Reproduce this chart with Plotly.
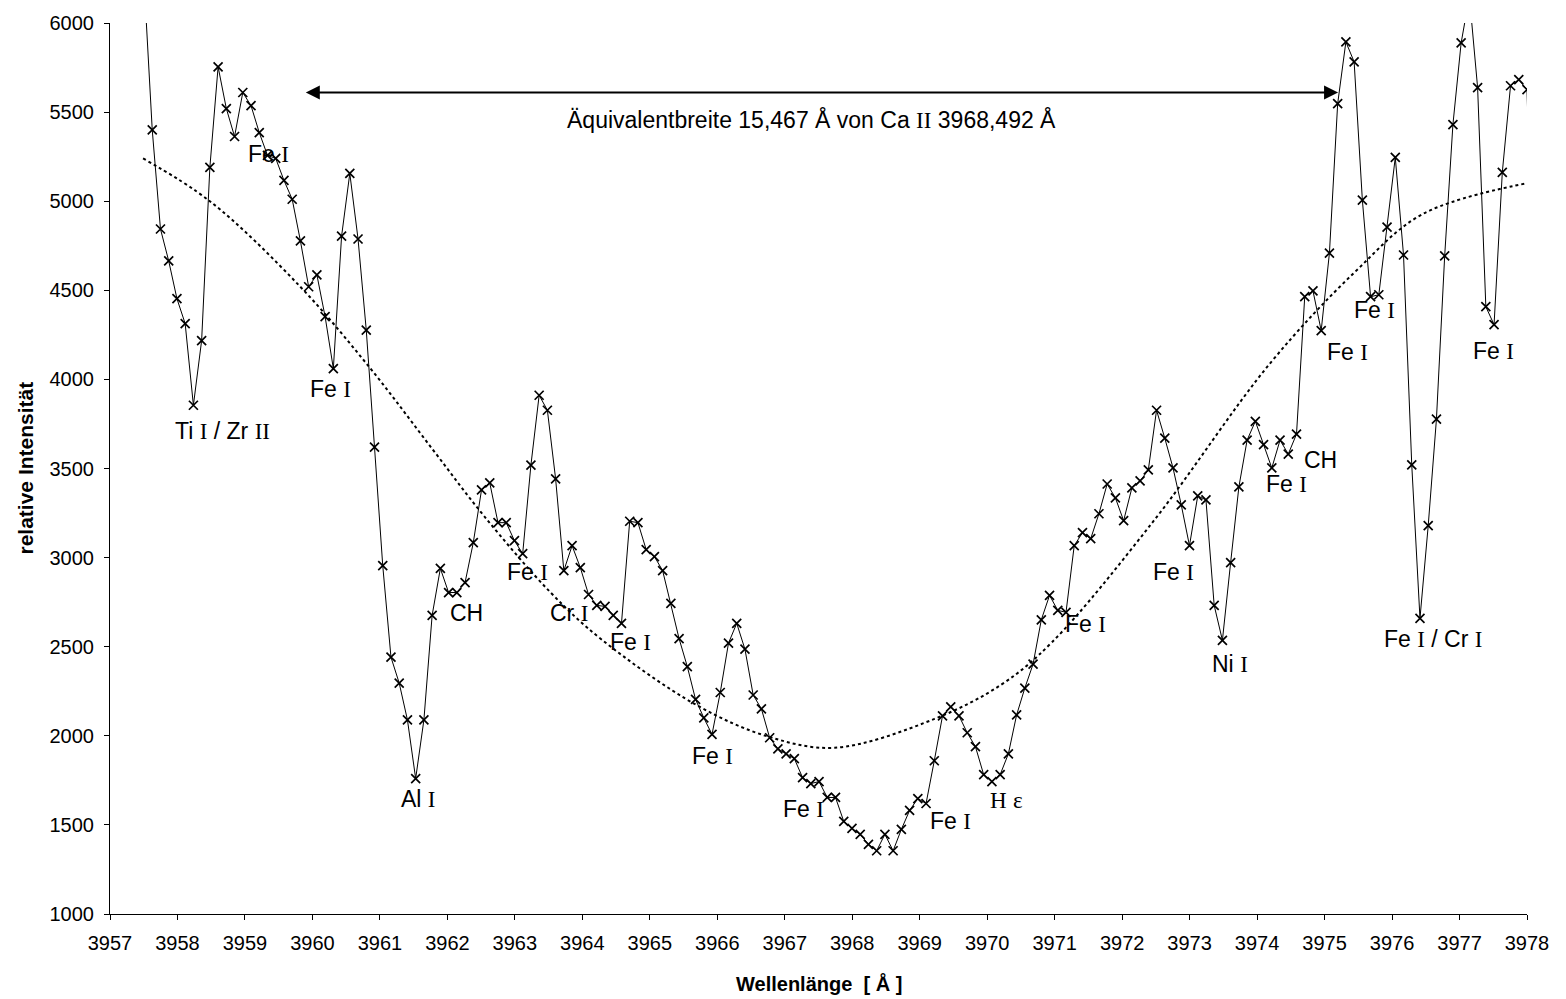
import plotly.graph_objects as go

# Wavelength grid of the extracted spectrum [Å]
wavelength = [
    3957.504, 3957.626, 3957.748, 3957.870, 3957.992, 3958.114, 3958.236, 3958.358, 3958.480, 3958.602,
    3958.724, 3958.846, 3958.968, 3959.090, 3959.212, 3959.334, 3959.456, 3959.578, 3959.700, 3959.822,
    3959.944, 3960.066, 3960.188, 3960.310, 3960.432, 3960.554, 3960.676, 3960.798, 3960.920, 3961.042,
    3961.164, 3961.286, 3961.408, 3961.530, 3961.652, 3961.774, 3961.896, 3962.018, 3962.140, 3962.262,
    3962.384, 3962.506, 3962.628, 3962.750, 3962.872, 3962.994, 3963.116, 3963.238, 3963.360, 3963.482,
    3963.604, 3963.726, 3963.848, 3963.970, 3964.092, 3964.214, 3964.336, 3964.458, 3964.580, 3964.702,
    3964.824, 3964.946, 3965.068, 3965.190, 3965.312, 3965.434, 3965.556, 3965.678, 3965.800, 3965.922,
    3966.044, 3966.166, 3966.288, 3966.410, 3966.532, 3966.654, 3966.776, 3966.898, 3967.020, 3967.142,
    3967.264, 3967.386, 3967.508, 3967.630, 3967.752, 3967.874, 3967.996, 3968.118, 3968.240, 3968.362,
    3968.484, 3968.606, 3968.728, 3968.850, 3968.972, 3969.094, 3969.216, 3969.338, 3969.460, 3969.582,
    3969.704, 3969.826, 3969.948, 3970.070, 3970.192, 3970.314, 3970.436, 3970.558, 3970.680, 3970.802,
    3970.924, 3971.046, 3971.168, 3971.290, 3971.412, 3971.534, 3971.656, 3971.778, 3971.900, 3972.022,
    3972.144, 3972.266, 3972.388, 3972.510, 3972.632, 3972.754, 3972.876, 3972.998, 3973.120, 3973.242,
    3973.364, 3973.486, 3973.608, 3973.730, 3973.852, 3973.974, 3974.096, 3974.218, 3974.340, 3974.462,
    3974.584, 3974.706, 3974.828, 3974.950, 3975.072, 3975.194, 3975.316, 3975.438, 3975.560, 3975.682,
    3975.804, 3975.926, 3976.048, 3976.170, 3976.292, 3976.414, 3976.536, 3976.658, 3976.780, 3976.902,
    3977.024, 3977.146, 3977.268, 3977.390, 3977.512, 3977.634, 3977.756, 3977.878, 3978.000, 3978.122,
]

# Relative intensity at each wavelength
intensity = [
    6240, 5400, 4844, 4665, 4453, 4313, 3855, 4218, 5190, 5754,
    5520, 5363, 5610, 5536, 5385, 5257, 5240, 5117, 5011, 4777,
    4520, 4587, 4352, 4061, 4804, 5156, 4788, 4276, 3620, 2955,
    2441, 2296, 2089, 1760, 2089, 2676, 2939, 2804, 2804, 2860,
    3084, 3380, 3419, 3196, 3196, 3095, 3022, 3519, 3911, 3827,
    3442, 2927, 3067, 2944, 2793, 2732, 2726, 2676, 2631, 3204,
    3196, 3045, 3006, 2927, 2743, 2545, 2388, 2204, 2101, 2008,
    2243, 2520, 2631, 2486, 2229, 2151, 1989, 1927, 1899, 1872,
    1765, 1732, 1743, 1654, 1654, 1520, 1480, 1447, 1391, 1355,
    1447, 1355, 1475, 1581, 1648, 1620, 1860, 2112, 2162, 2112,
    2017, 1939, 1782, 1743, 1782, 1899, 2117, 2268, 2402, 2651,
    2788, 2704, 2693, 3067, 3140, 3106, 3246, 3413, 3335, 3207,
    3391, 3430, 3492, 3827, 3670, 3503, 3296, 3067, 3346, 3324,
    2732, 2536, 2972, 3397, 3659, 3765, 3634, 3503, 3659, 3581,
    3693, 4464, 4497, 4274, 4709, 5547, 5894, 5782, 5006, 4464,
    4475, 4855, 5246, 4698, 3520, 2659, 3179, 3777, 4693, 5430,
    5888, 6150, 5637, 4408, 4307, 5162, 5648, 5682, 5626, 4000,
]

# Continuum trend through the profile of the Ca II line
trend_wavelength = [3957.49, 3958.48, 3959.82, 3960.86, 3961.79, 3962.54, 3963.53, 3964.28, 3965.69,
                    3966.76, 3967.74, 3969.22, 3970.22, 3970.96, 3972.48, 3974.19, 3975.45, 3976.45, 3978.00]
trend_intensity = [5240, 5000, 4520, 4061, 3603, 3235, 2804, 2542, 2173,
                   1995, 1933, 2095, 2290, 2525, 3212, 4089, 4603, 4927, 5101]

# Line identifications
line_labels = ["Ti I / Zr II", "Fe I", "Fe I", "Al I", "CH", "Fe I", "Cr I", "Fe I", "Fe I", "Fe I",
               "Fe I", "H ε", "Fe I", "Fe I", "Ni I", "Fe I", "CH", "Fe I", "Fe I", "Fe I / Cr I", "Fe I"]
label_wavelength = [3958.66, 3959.35, 3960.27, 3961.57, 3962.29, 3963.19, 3963.80, 3964.71, 3965.93, 3967.28,
                    3969.46, 3970.29, 3971.45, 3972.76, 3973.60, 3974.44, 3974.94, 3975.34, 3975.74, 3976.60, 3977.50]
label_intensity = [3709, 5263, 3944, 1648, 2687, 2922, 2687, 2525, 1888, 1592,
                   1520, 1637, 2626, 2922, 2402, 3413, 3547, 4151, 4391, 2542, 4162]

# Equivalent width marker
width_start = 3959.88
width_end = 3975.20
width_level = 5610
width_text = "Äquivalentbreite 15,467 Å von Ca II 3968,492 Å"
width_text_pos = (3967.40, 5460)

SANS = "Liberation Sans, Arial, sans-serif"
SERIF = "Liberation Serif"


def with_serif_numerals(text):
    parts = []
    for tok in text.split(" "):
        if tok in ("I", "II", "ε", "H") and ("ε" in text or tok in ("I", "II")):
            parts.append(f"<span style='font-family:{SERIF}'>{tok}</span>")
        else:
            parts.append(tok)
    return " ".join(parts)


fig = go.Figure()

fig.add_trace(go.Scatter(
    x=trend_wavelength, y=trend_intensity, mode="lines",
    line=dict(color="black", width=2, dash="dot", shape="spline"),
    hoverinfo="skip", showlegend=False,
))

fig.add_trace(go.Scatter(
    x=wavelength, y=intensity, mode="lines+markers",
    line=dict(color="black", width=1),
    marker=dict(symbol="x-thin", size=9, line=dict(color="black", width=1.7)),
    showlegend=False,
))

annotations = []
for txt, lx, ly in zip(line_labels, label_wavelength, label_intensity):
    annotations.append(dict(
        x=lx, y=ly, xref="x", yref="y", text=with_serif_numerals(txt),
        showarrow=False, xanchor="center", yanchor="middle",
        font=dict(family=SANS, size=23, color="black"),
    ))

# double-headed arrow spanning the equivalent width
annotations.append(dict(
    x=width_end, y=width_level, ax=width_start, ay=width_level,
    xref="x", yref="y", axref="x", ayref="y", text="",
    showarrow=True, arrowhead=2, startarrowhead=2, arrowside="end+start",
    arrowsize=1.4, arrowwidth=2, arrowcolor="black", standoff=0, startstandoff=0,
))
annotations.append(dict(
    x=width_text_pos[0], y=width_text_pos[1], xref="x", yref="y",
    text=with_serif_numerals(width_text), showarrow=False,
    xanchor="center", yanchor="middle",
    font=dict(family=SANS, size=23, color="black"),
))

# axis titles
annotations.append(dict(
    x=0.5, y=0, xref="paper", yref="paper", yshift=-69, text="<b>Wellenlänge  [ Å ]</b>",
    showarrow=False, xanchor="center", yanchor="middle",
    font=dict(family=SANS, size=20, color="black"),
))
annotations.append(dict(
    x=0, y=0.5, xref="paper", yref="paper", xshift=-85, text="<b>relative Intensität</b>",
    textangle=-90, showarrow=False, xanchor="center", yanchor="middle",
    font=dict(family=SANS, size=21, color="black"),
))

axis_common = dict(
    showgrid=False, zeroline=False, showline=True, linecolor="black", linewidth=1,
    ticks="outside", ticklen=5, tickcolor="black", tickwidth=1,
    tickfont=dict(family=SANS, size=20, color="black"), tickformat="d",
    ticklabelstandoff=6,
)

fig.update_layout(
    width=1566, height=999, autosize=False,
    margin=dict(l=110, r=39, t=18, b=85),
    paper_bgcolor="white", plot_bgcolor="white",
    xaxis=dict(range=[3957, 3978], dtick=1, tick0=3957, **axis_common),
    yaxis=dict(range=[1000, 6000], dtick=500, tick0=1000, **axis_common),
    annotations=annotations,
    font=dict(family=SANS, color="black"),
)

fig.write_html("out.html")
